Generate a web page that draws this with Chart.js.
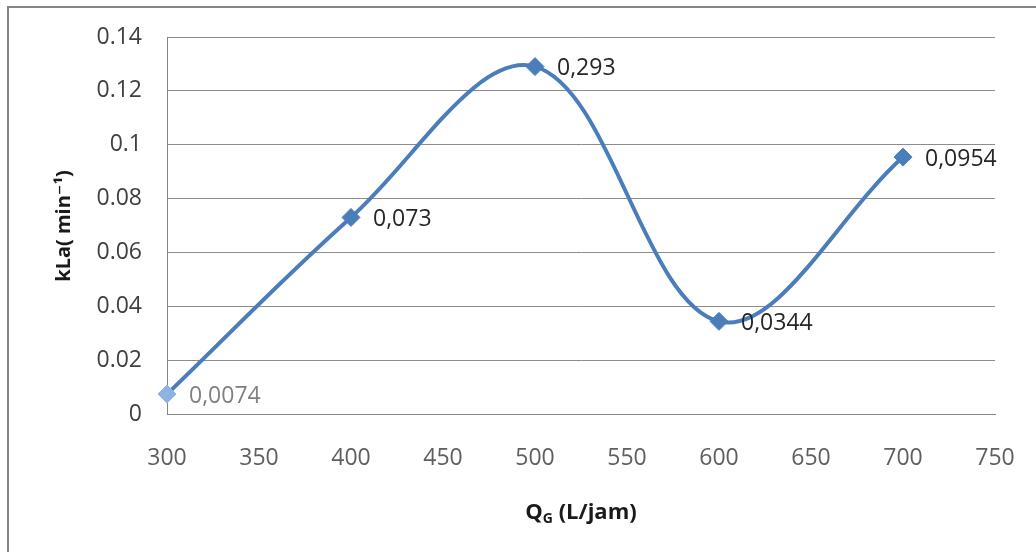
<!DOCTYPE html>
<html>
<head>
<meta charset="utf-8">
<script src="https://cdn.jsdelivr.net/npm/chart.js@4/dist/chart.umd.min.js"></script>
<style>
  html, body { margin: 0; padding: 0; background: #ffffff; }
  #wrap { position: absolute; left: 0; top: 0; width: 1036px; height: 552px; }
</style>
</head>
<body>
<div id="wrap"><canvas id="c" width="1036" height="552"></canvas></div>
<script>
// ---- data ----
const xValues = [300, 400, 500, 600, 700];
const kLaValues = [0.0074, 0.073, 0.129, 0.0344, 0.0954];
const pointLabels = ['0,0074', '0,073', '0,293', '0,0344', '0,0954'];
const xTickLabels = ['300', '350', '400', '450', '500', '550', '600', '650', '700', '750'];
const yTickLabels = ['0', '0.02', '0.04', '0.06', '0.08', '0.1', '0.12', '0.14'];
const xTitleMain = 'Q';
const xTitleSub = 'G';
const xTitleRest = ' (L/jam)';
const yTitleText = 'kLa( min⁻¹)';

const FONT = '"Open Sans", "DejaVu Sans", sans-serif';
const lineColor = '#4a7ebb';
const pointColors = ['#8db3e2', '#4a7ebb', '#4a7ebb', '#4a7ebb', '#4a7ebb'];
const labelColors = ['#808080', '#262626', '#262626', '#262626', '#262626'];

const decorPlugin = {
  id: 'decor',
  beforeDraw(chart) {
    const ctx = chart.ctx;
    ctx.save();
    ctx.strokeStyle = '#858585';
    ctx.lineWidth = 2;
    ctx.beginPath();
    ctx.moveTo(8, chart.height);
    ctx.lineTo(8, 7);
    ctx.lineTo(chart.width, 7);
    ctx.stroke();
    ctx.restore();
  },
  afterDatasetsDraw(chart) {
    const ctx = chart.ctx;
    const meta = chart.getDatasetMeta(0);
    ctx.save();
    ctx.font = '23px ' + FONT;
    ctx.textBaseline = 'middle';
    ctx.textAlign = 'left';
    meta.data.forEach((pt, i) => {
      ctx.fillStyle = labelColors[i];
      ctx.fillText(pointLabels[i], pt.x + 22, pt.y + 2);
    });
    // axis titles
    const area = chart.chartArea;
    ctx.fillStyle = '#1a1a1a';
    // x title
    ctx.textBaseline = 'alphabetic';
    const mainFont = 'bold 22px ' + FONT;
    const subFont = 'bold 14px ' + FONT;
    ctx.font = mainFont;
    const wMain = ctx.measureText(xTitleMain).width;
    const wRest = ctx.measureText(xTitleRest).width;
    ctx.font = subFont;
    const wSub = ctx.measureText(xTitleSub).width;
    const total = wMain + wSub + wRest;
    let x0 = (area.left + area.right) / 2 - total / 2;
    const yb = 519;
    ctx.font = mainFont;
    ctx.fillText(xTitleMain, x0, yb);
    ctx.font = subFont;
    ctx.fillText(xTitleSub, x0 + wMain, yb + 4);
    ctx.font = mainFont;
    ctx.fillText(xTitleRest, x0 + wMain + wSub, yb);
    // y title
    ctx.save();
    ctx.translate(64, 226);
    ctx.rotate(-Math.PI / 2);
    ctx.textAlign = 'center';
    ctx.textBaseline = 'middle';
    ctx.font = 'bold 20px ' + FONT;
    ctx.fillText(yTitleText, 0, 0);
    ctx.restore();
    ctx.restore();
  }
};

new Chart(document.getElementById('c'), {
  type: 'scatter',
  data: {
    datasets: [{
      data: xValues.map((x, i) => ({ x: x, y: kLaValues[i] })),
      showLine: true,
      clip: false,
      borderColor: lineColor,
      borderWidth: 4,
      tension: 0.36,
      pointStyle: 'rectRot',
      pointRadius: 9,
      pointHoverRadius: 9,
      pointBackgroundColor: pointColors,
      pointBorderColor: pointColors,
      pointBorderWidth: 1
    }]
  },
  options: {
    responsive: false,
    animation: false,
    events: [],
    layout: { padding: { left: 0, top: 37, right: 41, bottom: 0 } },
    plugins: {
      legend: { display: false },
      tooltip: { enabled: false },
      title: { display: false }
    },
    scales: {
      x: {
        type: 'linear',
        min: 300,
        max: 750,
        afterFit(scale) {
          scale.height = 138;
          scale.paddingLeft = 0;
          scale.paddingRight = 0;
        },
        afterBuildTicks(scale) {
          scale.ticks = xTickLabels.map(v => ({ value: Number(v) }));
        },
        grid: { display: false, drawTicks: false },
        border: { display: true, color: '#868686', width: 1 },
        ticks: {
          padding: 31,
          color: '#5f5f5f',
          font: { family: FONT, size: 23 },
          maxRotation: 0,
          autoSkip: false,
          callback(value, index) { return xTickLabels[index]; }
        }
      },
      y: {
        min: 0,
        max: 0.14,
        afterFit(scale) {
          scale.width = 167;
          scale.paddingTop = 0;
          scale.paddingBottom = 0;
        },
        afterBuildTicks(scale) {
          scale.ticks = yTickLabels.map(v => ({ value: Number(v) }));
        },
        grid: { color: '#8c8c8c', lineWidth: 1, drawTicks: false },
        border: { display: true, color: '#868686', width: 1 },
        ticks: {
          padding: 25,
          color: '#404040',
          font: { family: FONT, size: 23 },
          autoSkip: false,
          callback(value, index) { return yTickLabels[index]; }
        }
      }
    }
  },
  plugins: [decorPlugin]
});
</script>
</body>
</html>
